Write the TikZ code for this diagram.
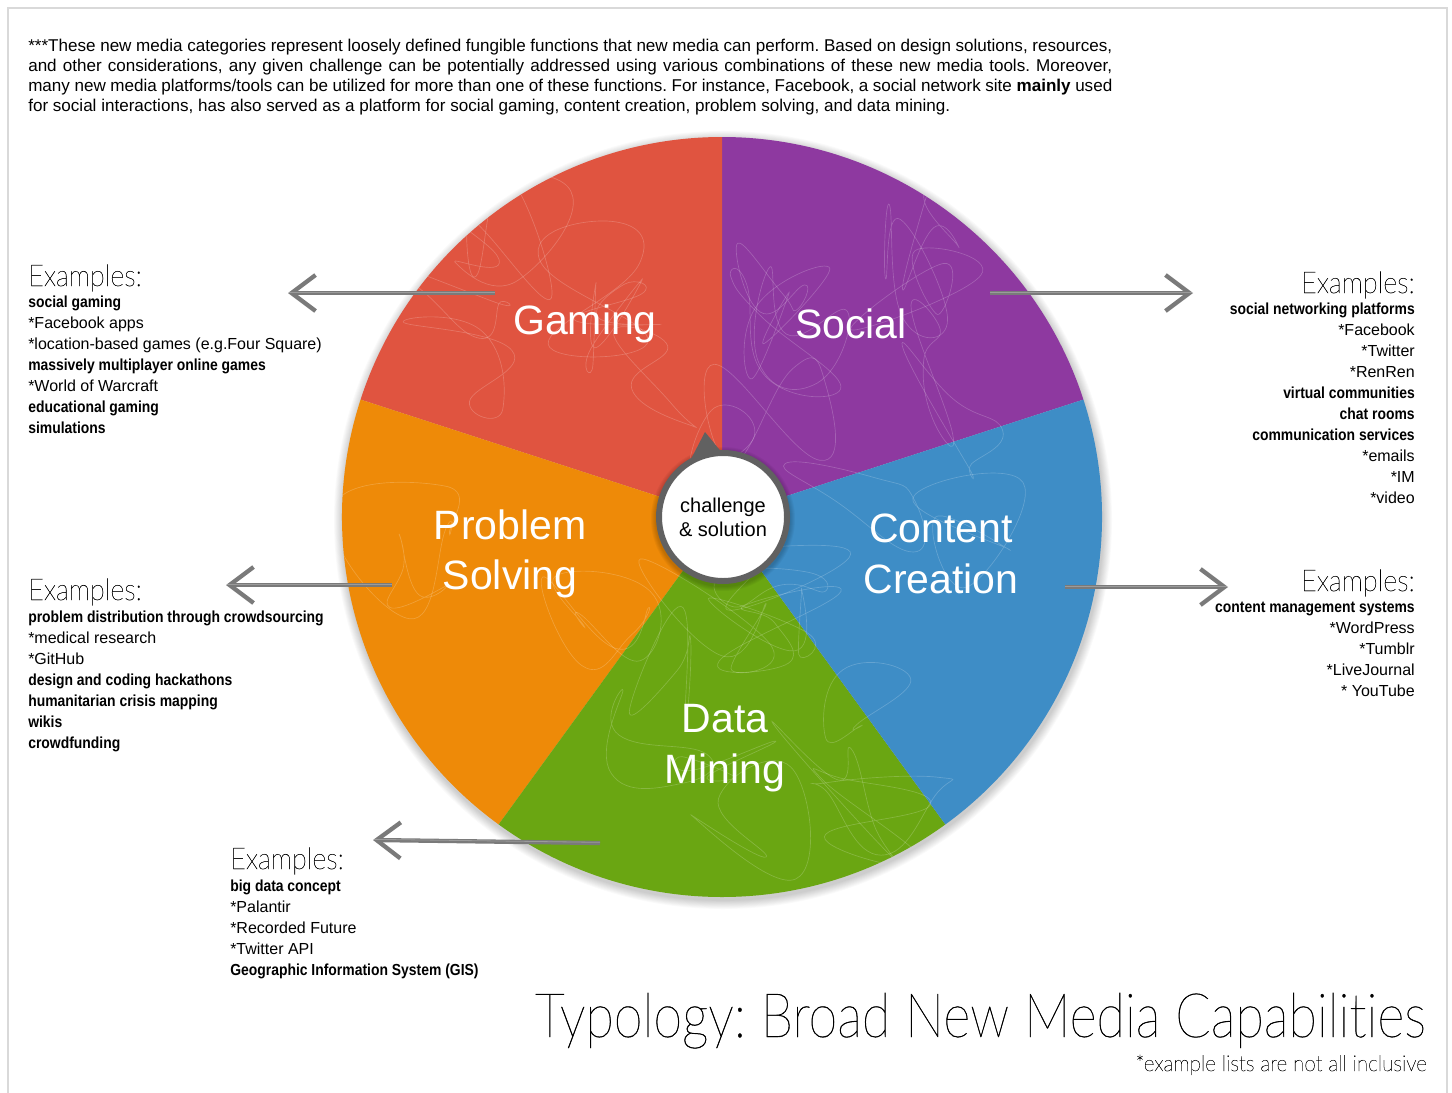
\documentclass[tikz,border=0pt]{standalone}
\usepackage{fontspec}
\setmainfont{Liberation Sans}
\newfontfamily\condb{Liberation Sans}[FakeStretch=0.87]
\newfontfamily\thinf{Lato Thin}[FakeStretch=0.9,FakeBold=0.6,Ligatures=NoCommon]
\newfontfamily\titlef{Lato Thin}[FakeStretch=0.85,FakeBold=0.6,Ligatures=NoCommon]
\newfontfamily\notef{Lato Thin}[FakeStretch=0.94,FakeBold=0.6,Ligatures=NoCommon]
\usetikzlibrary{arrows.meta}
\definecolor{cgame}{RGB}{224,84,64}
\definecolor{csocial}{RGB}{142,57,160}
\definecolor{ccontent}{RGB}{62,141,198}
\definecolor{cdata}{RGB}{106,166,18}
\definecolor{cprob}{RGB}{238,138,8}
\definecolor{arrowgray}{RGB}{122,122,122}
\definecolor{ringgray}{RGB}{97,97,97}
\newcommand\bb[1]{{\condb\bfseries #1}}
\frenchspacing
\begin{document}
\begin{tikzpicture}[x=0.75pt,y=-0.75pt,
  lab/.style={font=\fontsize{30.75pt}{38pt}\selectfont, text=white, align=center, inner sep=0},
  ex/.style={font=\thinf\fontsize{22.5pt}{27pt}\selectfont, inner sep=0},
  li/.style={font=\fontsize{12pt}{15.75pt}\selectfont, inner sep=0},
  toppar/.style={font=\fontsize{12.8pt}{15pt}\selectfont, inner sep=0, anchor=base west},
  arr/.style={draw=arrowgray, line width=3.2pt, -{Straight Barb[length=18pt,width=27pt,line width=3.2pt]}},
]
\useasboundingbox (0,0) rectangle (1452,1092);
\fill[white] (0,0) rectangle (1452,1092);
\draw[black!15, line width=1pt] (8,8) rectangle (1447,1110);

% top paragraph
\node[toppar] (p1) at (28,51) {\makebox[813pt][s]{***These new media categories represent loosely defined fungible functions that new media can perform. Based on design solutions, resources,}};
\node[toppar] (p2) at (28,71) {\makebox[813pt][s]{and other considerations, any given challenge can be potentially addressed using various combinations of these new media tools. Moreover,}};
\node[toppar] (p3) at (28,91) {\makebox[813pt][s]{many new media platforms/tools can be utilized for more than one of these functions. For instance, Facebook, a social network site \textbf{mainly} used}};
\node[toppar] (p4) at (28,111) {for social interactions, has also served as a platform for social gaming, content creation, problem solving, and data mining.};

% wheel shadow
\coordinate (c) at (722,517);
\foreach \i in {1,...,10}
  \fill[black, opacity=0.02] ([shift={(1,3)}]c) circle[radius={(380+\i*0.9)*0.75pt}];

% sectors
\fill[csocial]  (c) -- ++(18:285pt)  arc[start angle=18,  end angle=90,  radius=285pt] -- cycle;
\fill[cgame]    (c) -- ++(90:285pt)  arc[start angle=90,  end angle=162, radius=285pt] -- cycle;
\fill[cprob]    (c) -- ++(162:285pt) arc[start angle=162, end angle=234, radius=285pt] -- cycle;
\fill[cdata]    (c) -- ++(234:285pt) arc[start angle=234, end angle=306, radius=285pt] -- cycle;
\fill[ccontent] (c) -- ++(306:285pt) arc[start angle=306, end angle=378, radius=285pt] -- cycle;

% scribble texture
\begin{scope}
  \clip (c) circle[radius=285pt];
  \pgfmathsetseed{42}
  \foreach \k in {1,...,40}{
    \pgfmathsetmacro\cx{722+330*rand}
    \pgfmathsetmacro\cy{517+330*rand}
    \draw[white, opacity=0.2, line width=0.5pt] plot[smooth cycle, tension=0.9] coordinates
      {({\cx+70*rand},{\cy+70*rand}) ({\cx+70*rand},{\cy+70*rand}) ({\cx+70*rand},{\cy+70*rand}) ({\cx+70*rand},{\cy+70*rand}) ({\cx+70*rand},{\cy+70*rand})};
  }
\end{scope}

% labels
\node[lab] (gaming)  at (585,324) {Gaming};
\node[lab] (social)  at (851,324) {Social};
\node[lab] (problem) at (510,554) {Problem\\Solving};
\node[lab] (content) at (941,554) {Content\\Creation};
\node[lab] (data)    at (725,748) {Data\\Mining};

% center
\foreach \i in {1,...,5}
  \fill[black, opacity=0.04] ([shift={(1,2)}]c) circle[radius={(67+\i)*0.75pt}];
\node[circle, fill=white, draw=ringgray, line width=4.5pt, minimum size=96pt, inner sep=0,
      align=center, font=\fontsize{15pt}{18pt}\selectfont] (hub) at (723,517) {challenge\\\& solution};
\fill[ringgray] (705,432) -- (690,461) -- (723,454) -- cycle;

% arrows
\coordinate (ga0) at (495,293); \coordinate (ga1) at (288,293);
\coordinate (so0) at (990,293); \coordinate (so1) at (1193,293);
\coordinate (pr0) at (392,585); \coordinate (pr1) at (226,585);
\coordinate (co0) at (1065,587); \coordinate (co1) at (1228,587);
\coordinate (da0) at (600,843); \coordinate (da1) at (373,840);
\foreach \a in {ga,so,pr,co,da}{
  \draw[arr] (\a0) -- (\a1);
  \draw[white, opacity=0.25, line width=0.6pt] ([yshift=0.5pt]\a0) -- ([yshift=0.5pt]\a1);
}

% Gaming examples
\node[ex, anchor=base west] (gex) at (28,286) {Examples:};
\foreach \t [count=\i from 0] in {\bb{social gaming}, *Facebook apps, *location-based games (e.g.Four Square), \bb{massively multiplayer online games}, *World of Warcraft, \bb{educational gaming}, \bb{simulations}}
  \node[li, anchor=base west] (g\i) at (28,{307+21.1*\i}) {\t};

% Social examples
\node[ex, anchor=base east] (sex) at (1415,293) {Examples:};
\foreach \t [count=\i from 0] in {\bb{social networking platforms}, *Facebook, *Twitter, *RenRen, \bb{virtual communities}, \bb{chat rooms}, \bb{communication services}, *emails, *IM, *video}
  \node[li, anchor=base east] (s\i) at (1415,{314+21.1*\i}) {\t};

% Content examples
\node[ex, anchor=base east] (cex) at (1415,591) {Examples:};
\foreach \t [count=\i from 0] in {\bb{content management systems}, *WordPress, *Tumblr, *LiveJournal, * YouTube}
  \node[li, anchor=base east] (c\i) at (1415,{612+21*\i}) {\t};

% Problem examples
\node[ex, anchor=base west] (pex) at (28,600) {Examples:};
\foreach \t [count=\i from 0] in {\bb{problem distribution through crowdsourcing}, *medical research, *GitHub, \bb{design and coding hackathons}, \bb{humanitarian crisis mapping}, \bb{wikis}, \bb{crowdfunding}}
  \node[li, anchor=base west] (pl\i) at (28,{622+21*\i}) {\t};

% Data examples
\node[ex, anchor=base west] (dex) at (230,869) {Examples:};
\foreach \t [count=\i from 0] in {\bb{big data concept}, *Palantir, *Recorded Future, *Twitter API, \bb{Geographic Information System (GIS)}}
  \node[li, anchor=base west] (d\i) at (230,{891+21*\i}) {\t};

% title
\node[inner sep=0, anchor=base east, font=\titlef\fontsize{46pt}{50pt}\selectfont] (title) at (1426,1037) {Typology: Broad New Media Capabilities};
\node[inner sep=0, anchor=base east, font=\notef\fontsize{16.5pt}{18pt}\selectfont] (note) at (1427,1071) {*example lists are not all inclusive};
\end{tikzpicture}
\end{document}
